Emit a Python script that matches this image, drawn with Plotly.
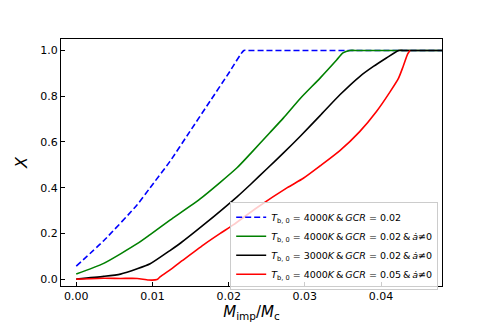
import plotly.graph_objects as go

_FONT = dict(family="DejaVu Sans, sans-serif", color="black")

# X vs M_imp/M_c
blue_x = [0.0, 0.0036, 0.008, 0.0097, 0.0123, 0.0149, 0.0176, 0.020,
          0.022, 0.0225, 0.048]
blue_y = [0.057, 0.168, 0.325, 0.40, 0.515, 0.645, 0.78, 0.90,
          1.0, 1.0, 1.0]

green_x = [0.0, 0.0036, 0.008, 0.0097, 0.0123, 0.0163, 0.0211, 0.0229,
           0.0254, 0.0272, 0.0294, 0.032, 0.0342, 0.035, 0.0359, 0.0366,
           0.048]
green_y = [0.022, 0.069, 0.155, 0.195, 0.258, 0.352, 0.487, 0.55,
           0.64, 0.705, 0.79, 0.879, 0.959, 0.989, 1.0, 1.0,
           1.0]

black_x = [0.0, 0.0036, 0.0058, 0.008, 0.0097, 0.0123, 0.0137, 0.0167,
           0.0211, 0.0229, 0.0251, 0.0272, 0.0294, 0.032, 0.0346, 0.0372,
           0.039, 0.0407, 0.0423, 0.0429, 0.048]
black_y = [0.0, 0.012, 0.022, 0.045, 0.067, 0.125, 0.158, 0.237,
           0.36, 0.415, 0.485, 0.552, 0.625, 0.715, 0.806, 0.886,
           0.93, 0.967, 1.0, 1.0, 1.0]

red_x = [0.0, 0.0036, 0.0058, 0.008, 0.0095, 0.0106, 0.011, 0.0125,
         0.014, 0.0167, 0.0189, 0.0206, 0.0237, 0.0277, 0.0298, 0.032,
         0.0346, 0.0372, 0.0394, 0.0412, 0.0423, 0.0429, 0.0435, 0.0438]
red_y = [0.0, 0.004, 0.003, 0.003, -0.004, -0.002, 0.01, 0.045,
         0.083, 0.15, 0.20, 0.237, 0.312, 0.40, 0.441, 0.495,
         0.562, 0.645, 0.733, 0.82, 0.879, 0.93, 0.985, 1.0]

x_ticks = [0.0, 0.01, 0.02, 0.03, 0.04]
y_ticks = [0.0, 0.2, 0.4, 0.6, 0.8, 1.0]

AMP = "\u2009&\u2009"
series = [
    (blue_x, blue_y, "#0000ff", "6px,3px",
     f"<i>T</i><sub>b, 0</sub> = 4000<i>K</i>{AMP}<i>GCR</i> = 0.02"),
    (green_x, green_y, "#008000", "solid",
     f"<i>T</i><sub>b, 0</sub> = 4000<i>K</i>{AMP}<i>GCR</i> = 0.02{AMP}<i>ȧ</i>≠0"),
    (black_x, black_y, "#000000", "solid",
     f"<i>T</i><sub>b, 0</sub> = 3000<i>K</i>{AMP}<i>GCR</i> = 0.02{AMP}<i>ȧ</i>≠0"),
    (red_x, red_y, "#ff0000", "solid",
     f"<i>T</i><sub>b, 0</sub> = 4000<i>K</i>{AMP}<i>GCR</i> = 0.05{AMP}<i>ȧ</i>≠0"),
]

fig = go.Figure()
for xs, ys, color, dash, name in series:
    fig.add_trace(go.Scatter(
        x=xs, y=ys, mode="lines", name=name,
        line=dict(color=color, width=1.6, dash=dash,
                  shape="spline", smoothing=0.6),
    ))

# the page body has an 8px margin, so the figure is sized to fit after it
fig.update_layout(
    width=483, height=319,
    margin=dict(l=53, r=49, t=31, b=41),
    paper_bgcolor="white", plot_bgcolor="white",
    font=dict(size=11, **_FONT),
    legend=dict(
        x=0.99, y=-0.015, xanchor="right", yanchor="bottom",
        bgcolor="rgba(255,255,255,0.8)", bordercolor="#cccccc", borderwidth=1,
        font=dict(size=9.5, **_FONT), tracegroupgap=0, itemwidth=30,
    ),
)
fig.update_xaxes(
    range=[-0.002, 0.048], tickvals=x_ticks, tickformat=".2f",
    ticks="inside", ticklen=4, tickcolor="black", automargin=False,
    showline=True, linecolor="black", linewidth=1, mirror=True,
    showgrid=False, zeroline=False,
    title=dict(text="<i>M</i><sub>imp</sub>/<i>M</i><sub>c</sub>",
               font=dict(size=15, **_FONT), standoff=4),
)
fig.update_yaxes(
    range=[-0.03, 1.05], tickvals=y_ticks, tickformat=".1f",
    ticks="inside", ticklen=4, tickcolor="black", automargin=False,
    showline=True, linecolor="black", linewidth=1, mirror=True,
    showgrid=False, zeroline=False,
    title=dict(text="<i>X</i>", font=dict(size=16, **_FONT), standoff=8),
)

fig.write_html("out.html")
